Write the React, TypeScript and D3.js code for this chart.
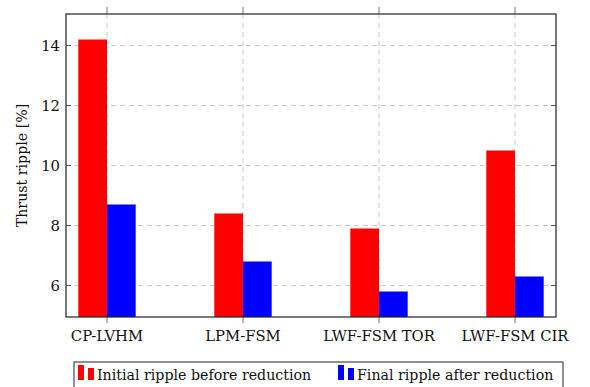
import React from "react";
import * as d3 from "d3";

const categories = ["CP-LVHM", "LPM-FSM", "LWF-FSM TOR", "LWF-FSM CIR"];
const initialRipple = [14.2, 8.4, 7.9, 10.5];
const finalRipple = [8.7, 6.8, 5.8, 6.3];
const yTicks = [6, 8, 10, 12, 14];
const seriesNames = ["Initial ripple before reduction", "Final ripple after reduction"];
const seriesColors = ["#ff0000", "#0000ff"];
const yLabel = "Thrust ripple [%]";

const W = 590, H = 387;
const L = 66, R = 556, T = 14, B = 317;
const FONT = "DejaVu Serif";

export default function App() {
  const y = d3.scaleLinear().domain([4.95, 15.05]).range([B, T]);
  const x = d3.scalePoint<string>().domain(categories).range([107, 515]);
  const bw = 28.7;
  const series = [initialRipple, finalRipple];
  const txt = { fontFamily: FONT, fontSize: "14.2px" };
  const tick = { fontFamily: FONT, fontSize: "14.8px" };
  return (
    <svg width={W} height={H} style={{ position: "absolute", left: 0, top: 0 }}>
      <rect width={W} height={H} fill="#fff" />
      {yTicks.map((t) => (
        <line key={"gy" + t} x1={L} x2={R} y1={y(t)} y2={y(t)} stroke="#c8c8c8" strokeWidth={1} strokeDasharray="5,4" />
      ))}
      {categories.map((c) => (
        <line key={"gx" + c} x1={x(c)} x2={x(c)} y1={T} y2={B} stroke="#c8c8c8" strokeWidth={1} strokeDasharray="5,4" />
      ))}
      {series.map((vals, si) =>
        vals.map((v, i) => {
          const cx = x(categories[i])!;
          const x0 = si === 0 ? cx - bw : cx;
          return (
            <rect key={si + "-" + i} x={x0} y={y(v)} width={bw} height={B - y(v)} fill={seriesColors[si]} />
          );
        })
      )}
      {yTicks.map((t) => (
        <g key={"ty" + t}>
          <line x1={L} x2={L + 5} y1={y(t)} y2={y(t)} stroke="#555" />
          <line x1={R - 5} x2={R} y1={y(t)} y2={y(t)} stroke="#555" />
          <text x={L - 6} y={y(t)} dy="0.35em" textAnchor="end" style={tick} fill="#111">{t}</text>
        </g>
      ))}
      {categories.map((c) => (
        <g key={"tx" + c}>
          <line x1={x(c)} x2={x(c)} y1={T - 7} y2={T} stroke="#777" />
          <line x1={x(c)} x2={x(c)} y1={B} y2={B + 6} stroke="#777" />
          <text x={x(c)} y={B + 24} textAnchor="middle" style={tick} fill="#111">{c}</text>
        </g>
      ))}
      <rect x={L} y={T} width={R - L} height={B - T} fill="none" stroke="#222" strokeWidth={1.2} />
      <text transform={`translate(27,${(T + B) / 2}) rotate(-90)`} textAnchor="middle" style={txt} fill="#111">{yLabel}</text>
      <rect x={74} y={362} width={489} height={30} fill="#fff" stroke="#222" strokeWidth={1} />
      {seriesNames.map((n, i) => {
        const lx = i === 0 ? 78 : 338;
        return (
          <g key={n}>
            <rect x={lx} y={365} width={6} height={15} fill={seriesColors[i]} />
            <rect x={lx + 10} y={368} width={6} height={12} fill={seriesColors[i]} />
            <text x={lx + 19} y={380} style={txt} fill="#111">{n}</text>
          </g>
        );
      })}
    </svg>
  );
}
